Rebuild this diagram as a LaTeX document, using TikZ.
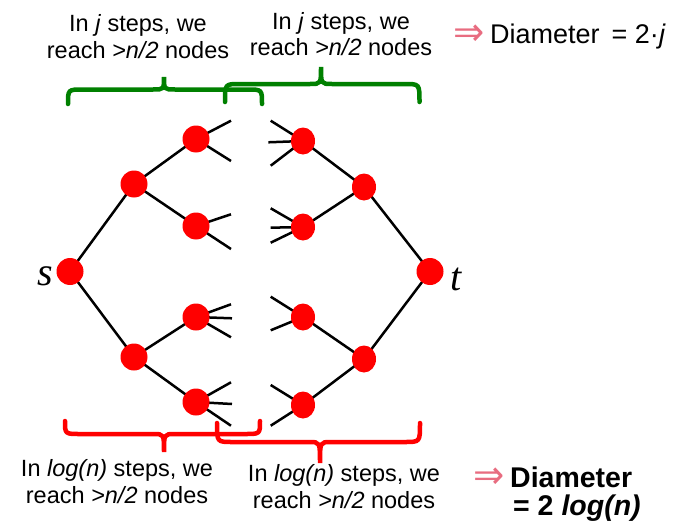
\documentclass[tikz,border=0pt]{standalone}
\usepackage{fontspec}
\setmainfont{Liberation Sans}
\newfontfamily\letterfont{Liberation Serif}
\newfontfamily\arrowfont{DejaVu Sans}
\usetikzlibrary{backgrounds,shapes.geometric}
\definecolor{bracegreen}{RGB}{0,128,0}
\definecolor{arrowpink}{RGB}{232,108,128}

% curly brace: style, left x, right x, tip x, end y, bar y, tip y
\newcommand\curlybrace[7]{%
  \draw[#1] (#2,#5) .. controls (#2,#6) .. (#2+15,#6) -- (#4-11,#6)
    .. controls (#4,#6) .. (#4,#7) .. controls (#4,#6) .. (#4+11,#6)
    -- (#3-15,#6) .. controls (#3,#6) .. (#3,#5);}

\begin{document}
\begin{tikzpicture}[x=1pt,y=-1pt,
  vertex/.style={circle,fill=red,inner sep=0pt,minimum size=27pt},
  rvertex/.style={ellipse,fill=red,inner sep=0pt,minimum width=24pt,minimum height=27pt},
  edge/.style={line width=2.5pt,black},
  bracepen/.style={line width=4.5pt,line cap=round},
  txt/.style={align=center,inner sep=0pt,font=\fontsize{23.5}{27}\selectfont},
  lettertxt/.style={inner sep=0pt,font=\letterfont\itshape\fontsize{40}{40}\selectfont},
  implies/.style={inner sep=0pt,anchor=west,text=arrowpink,font=\arrowfont\fontsize{27}{27}\selectfont}
]
\useasboundingbox (0,0) rectangle (689,522);

% vertices
\node[vertex] (s) at (70,271.5) {};
\node[vertex] (a1) at (134,184) {};
\node[vertex] (a2) at (134,357) {};
\node[vertex] (b1) at (196,139) {};
\node[vertex] (b2) at (196,226) {};
\node[vertex] (b3) at (196,317) {};
\node[vertex] (b4) at (196,402) {};
\node[rvertex] (c1) at (303,141) {};
\node[rvertex] (c2) at (303,227) {};
\node[rvertex] (c3) at (303,317) {};
\node[rvertex] (c4) at (303,405) {};
\node[rvertex] (d1) at (364,187) {};
\node[rvertex] (d2) at (364,359) {};
\node[vertex] (t) at (430,271.5) {};

\node[lettertxt,anchor=base] (slabel) at (45,285) {s};
\node[lettertxt,anchor=base] (tlabel) at (456.5,290) {t};

% loose ends of the search frontiers
\coordinate (b1u) at (231,120.7);
\coordinate (b1d) at (231,161);
\coordinate (b2u) at (231,214.3);
\coordinate (b2d) at (231,249);
\coordinate (b3u) at (231,304.3);
\coordinate (b3m) at (232,318.3);
\coordinate (b3d) at (231,337.3);
\coordinate (b4u) at (231,382.3);
\coordinate (b4m) at (232,404);
\coordinate (b4d) at (231,425.7);
\coordinate (c1u) at (270.7,120.7);
\coordinate (c1m) at (268.3,142.3);
\coordinate (c1d) at (270.7,165.7);
\coordinate (c2u) at (270.7,208.3);
\coordinate (c2m) at (270.7,227.7);
\coordinate (c2d) at (270.7,242.7);
\coordinate (c3u) at (270.7,296.7);
\coordinate (c3d) at (270.7,330.3);
\coordinate (c4u) at (270.7,385);
\coordinate (c4d) at (270.7,425.7);

\begin{scope}[on background layer]
  \draw[edge] (s.center) -- (a1.center);
  \draw[edge] (s.center) -- (a2.center);
  \draw[edge] (a1.center) -- (b1.center);
  \draw[edge] (a1.center) -- (b2.center);
  \draw[edge] (a2.center) -- (b3.center);
  \draw[edge] (a2.center) -- (b4.center);
  \draw[edge] (t.center) -- (d1.center);
  \draw[edge] (t.center) -- (d2.center);
  \draw[edge] (d1.center) -- (c1.center);
  \draw[edge] (d1.center) -- (c2.center);
  \draw[edge] (d2.center) -- (c3.center);
  \draw[edge] (d2.center) -- (c4.center);
  \foreach \e in {b1u,b1d} \draw[edge] (b1.center) -- (\e);
  \foreach \e in {b2u,b2d} \draw[edge] (b2.center) -- (\e);
  \foreach \e in {b3u,b3m,b3d} \draw[edge] (b3.center) -- (\e);
  \foreach \e in {b4u,b4m,b4d} \draw[edge] (b4.center) -- (\e);
  \foreach \e in {c1u,c1m,c1d} \draw[edge] (c1.center) -- (\e);
  \foreach \e in {c2u,c2m,c2d} \draw[edge] (c2.center) -- (\e);
  \foreach \e in {c3u,c3d} \draw[edge] (c3.center) -- (\e);
  \foreach \e in {c4u,c4d} \draw[edge] (c4.center) -- (\e);
\end{scope}

% braces
\curlybrace{bracepen,draw=bracegreen}{68}{262}{164}{104}{89.5}{77}
\curlybrace{bracepen,draw=bracegreen}{225}{419.5}{321}{102}{84}{67}
\curlybrace{bracepen,draw=red}{65}{260}{164}{421}{434}{452}
\curlybrace{bracepen,draw=red}{217}{420}{320}{423}{442}{463}

% captions (base anchor sits on the last line)
\node[txt,anchor=base] (topL) at (138,58.3) {In \textit{j} steps, we\\reach \textit{>n/2} nodes};
\node[txt,anchor=base] (topR) at (341,56) {In \textit{j} steps, we\\reach \textit{>n/2} nodes};
\node[txt,anchor=base] (botL) at (117,503) {In \textit{log(n)} steps, we\\reach \textit{>n/2} nodes};
\node[txt,anchor=base] (botR) at (344,508.7) {In \textit{log(n)} steps, we\\reach \textit{>n/2} nodes};

\node[implies] (arrTop) at (453,35) {\scalebox{1.38}[1.45]{⇒}};
\node[inner sep=0pt,anchor=base west,font=\fontsize{27}{27}\selectfont] (diamTop) at (490,43.3) {Diameter\hspace{12pt}= 2·\textit{j}};

\node[implies] (arrBot) at (473,478) {\scalebox{1.38}[1.45]{⇒}};
\node[inner sep=0pt,anchor=base west,font=\bfseries\fontsize{28.5}{28.5}\selectfont] (diamBot) at (510,487) {Diameter};
\node[inner sep=0pt,anchor=base west,font=\bfseries\fontsize{28.5}{28.5}\selectfont] (valBot) at (513,515) {= 2 \textit{log(n)}};
\end{tikzpicture}
\end{document}
